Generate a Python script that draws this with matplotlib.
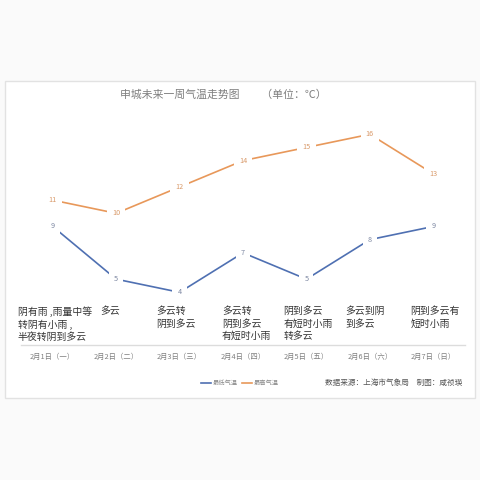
import matplotlib
matplotlib.use("Agg")
import matplotlib.pyplot as plt
from matplotlib.patches import Rectangle

plt.rcParams['font.family'] = ['Noto Sans CJK SC', 'DejaVu Sans']

dates = ["2月1日（一）", "2月2日（二）", "2月3日（三）", "2月4日（四）",
         "2月5日（五）", "2月6日（六）", "2月7日（日）"]
low_temp = [9, 5, 4, 7, 5, 8, 9]
high_temp = [11, 10, 12, 14, 15, 16, 13]
weather = ["阴有雨 ,雨量中等\n转阴有小雨 ,\n半夜转阴到多云",
           "多云",
           "多云转\n阴到多云",
           "多云转\n阴到多云\n有短时小雨",
           "阴到多云\n有短时小雨\n转多云",
           "多云到阴\n到多云",
           "阴到多云有\n短时小雨"]
weather_dx = [-0.55, -0.25, -0.37, -0.33, -0.36, -0.38, -0.36]
series_names = ["最低气温", "最高气温"]
title = "申城未来一周气温走势图　　（单位：℃）"
source = "数据来源：上海市气象局　制图：咸祯瑛"

fig = plt.figure(figsize=(4.8, 4.8), dpi=100)
fig.patch.set_facecolor("#fafafa")
W = H = 480.0
fig.patches.append(Rectangle((5 / W, 1 - 398 / H), 470 / W, 317 / H,
                             transform=fig.transFigure, facecolor="white",
                             edgecolor="#e2e2e2", linewidth=1.0, zorder=-5))

ax = fig.add_axes([21 / W, 1 - 345 / H, 444 / W, 18 * 13.17 / H])
ax.set_facecolor("none")
x = list(range(len(dates)))
blue = "#4f70b2"
orange = "#e8985a"
l1, = ax.plot(x, low_temp, color=blue, lw=1.2, zorder=2, label=series_names[0])
l2, = ax.plot(x, high_temp, color=orange, lw=1.2, zorder=2, label=series_names[1])

for xi, v in zip(x, low_temp):
    ax.text(xi, v, str(v), ha="center", va="center", fontsize=5.2, color="#7a85a0",
            zorder=3, bbox=dict(boxstyle="square,pad=0.7", fc="white", ec="none"))
for xi, v in zip(x, high_temp):
    ax.text(xi, v, str(v), ha="center", va="center", fontsize=5.2, color="#d99a6a",
            zorder=3, bbox=dict(boxstyle="square,pad=0.7", fc="white", ec="none"))

for xi, txt, dx in zip(x, weather, weather_dx):
    ax.text(xi + dx, 2.95, txt, ha="left", va="top", fontsize=7.1,
            color="#333333", linespacing=1.3, zorder=3)

ax.set_xlim(-0.5, 6.5)
ax.set_ylim(0, 18)
ax.set_xticks(x)
ax.set_xticklabels(dates, fontsize=5.3, color="#808080")
ax.tick_params(axis="x", length=0, pad=6)
ax.set_yticks([])
for s in ["top", "left", "right"]:
    ax.spines[s].set_visible(False)
ax.spines["bottom"].set_color("#dcdcdc")
ax.spines["bottom"].set_linewidth(1.0)

fig.text(223 / W, 1 - 95 / H, title, ha="center", va="center", fontsize=7.8,
         color="#7f7f7f")

fig.legend(handles=[l1, l2], loc="center", bbox_to_anchor=(240 / W, 1 - 383 / H),
           ncol=2, frameon=False, fontsize=4.5, handlelength=1.6,
           columnspacing=0.6, handletextpad=0.3, labelcolor="#888888")

fig.text(325 / W, 1 - 383 / H, source, ha="left", va="center", fontsize=5.5,
         color="#555555")

fig.savefig("out.png", dpi=100, facecolor=fig.get_facecolor())
